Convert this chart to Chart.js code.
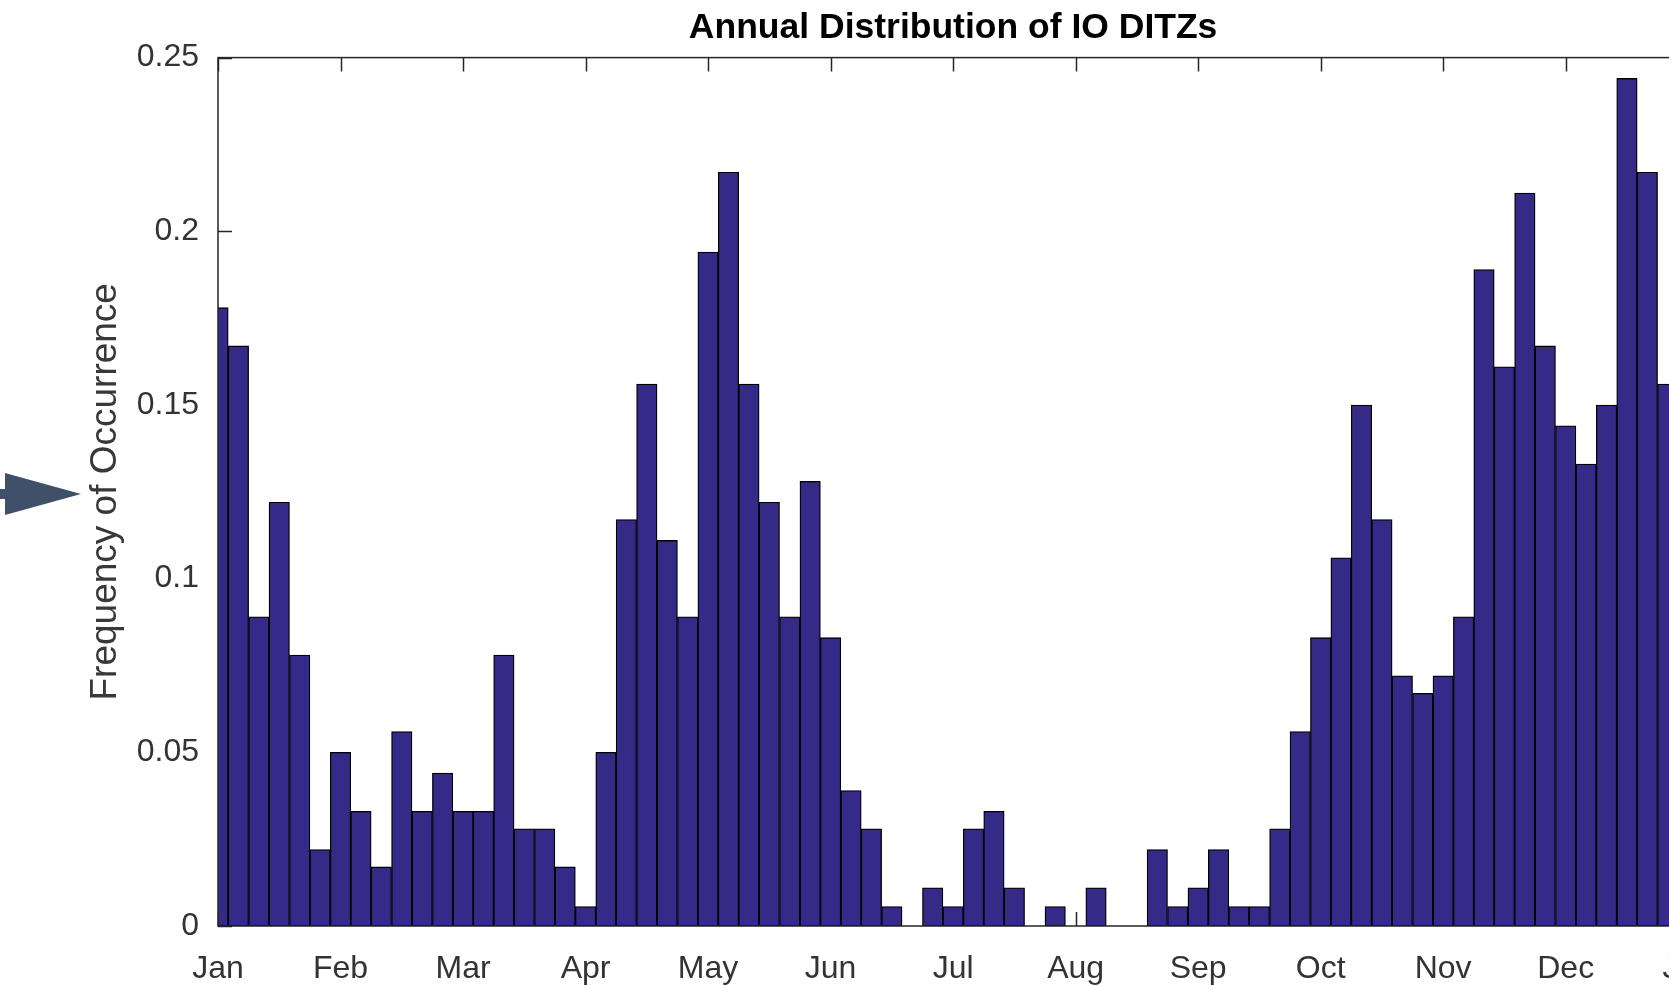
<!DOCTYPE html>
<html>
<head>
<meta charset="utf-8">
<title>Annual Distribution of IO DITZs</title>
<script src="https://cdn.jsdelivr.net/npm/chart.js@4.4.1/dist/chart.umd.min.js"></script>
<style>
  html, body { margin: 0; padding: 0; background: #fff; overflow: hidden; }
  #wrap { width: 1730px; height: 986px; }
  canvas { display: block; }
</style>
</head>
<body>
<div id="wrap"><canvas id="ditz-chart" width="1730" height="986"></canvas></div>
<script>
// Bin centres (day of year, 5-day bins; axis runs 0..360 with 30 days per month label)
const binCenters = [
  0, 5, 10, 15, 20, 25, 30, 35, 40, 45, 50, 55,
  60, 65, 70, 75, 80, 85, 90, 95, 100, 105, 110, 115,
  120, 125, 130, 135, 140, 145, 150, 155, 160, 165, 170, 175,
  180, 185, 190, 195, 200, 205, 210, 215, 220, 225, 230, 235,
  240, 245, 250, 255, 260, 265, 270, 275, 280, 285, 290, 295,
  300, 305, 310, 315, 320, 325, 330, 335, 340, 345, 350, 355
];

// Frequency of occurrence per bin
const frequency = [
  0.178, 0.167, 0.089, 0.122, 0.078, 0.022, 0.050, 0.033, 0.017, 0.056, 0.033, 0.044,
  0.033, 0.033, 0.078, 0.028, 0.028, 0.017, 0.0056, 0.050, 0.117, 0.156, 0.111, 0.089,
  0.194, 0.217, 0.156, 0.122, 0.089, 0.128, 0.083, 0.039, 0.028, 0.0056, 0, 0.011,
  0.0056, 0.028, 0.033, 0.011, 0, 0.0056, 0, 0.011, 0, 0, 0.022, 0.0056,
  0.011, 0.022, 0.0056, 0.0056, 0.028, 0.056, 0.083, 0.106, 0.150, 0.117, 0.072, 0.067,
  0.072, 0.089, 0.189, 0.161, 0.211, 0.167, 0.144, 0.133, 0.150, 0.244, 0.217, 0.156
];

// Tick labels
const monthLabels = ['Jan', 'Feb', 'Mar', 'Apr', 'May', 'Jun', 'Jul', 'Aug', 'Sep', 'Oct', 'Nov', 'Dec', 'Jan'];
const yTickLabels = ['0', '0.05', '0.1', '0.15', '0.2', '0.25'];

const FONT = "'Liberation Sans', Arial, Helvetica, sans-serif";
const AXIS_COLOR = '#262626';
const TICK_LEN = 14;

// MATLAB-style box with inward ticks
const matlabAxes = {
  id: 'matlabAxes',
  beforeDatasetsDraw(chart) {
    const { ctx, chartArea: a, scales: { x, y } } = chart;
    ctx.save();
    ctx.strokeStyle = AXIS_COLOR;
    ctx.lineWidth = 1.5;
    ctx.beginPath();
    x.ticks.forEach(t => {
      const px = Math.round(x.getPixelForValue(t.value)) + 0.5;
      ctx.moveTo(px, a.bottom); ctx.lineTo(px, a.bottom - TICK_LEN);
      ctx.moveTo(px, a.top); ctx.lineTo(px, a.top + TICK_LEN);
    });
    y.ticks.forEach(t => {
      const py = Math.round(y.getPixelForValue(t.value)) + 0.5;
      ctx.moveTo(a.left, py); ctx.lineTo(a.left + TICK_LEN, py);
      ctx.moveTo(a.right, py); ctx.lineTo(a.right - TICK_LEN, py);
    });
    ctx.stroke();
    ctx.restore();
  },
  afterDatasetsDraw(chart) {
    const { ctx, chartArea: a } = chart;
    ctx.save();
    ctx.strokeStyle = AXIS_COLOR;
    ctx.lineWidth = 1.5;
    ctx.strokeRect(a.left, a.top, a.right - a.left, a.bottom - a.top);
    ctx.restore();
  }
};

// Pointer arrow at the left edge of the figure
const pointerArrow = {
  id: 'pointerArrow',
  afterDraw(chart) {
    const ctx = chart.ctx;
    ctx.save();
    ctx.fillStyle = '#405068';
    ctx.fillRect(0, 489, 7, 10);
    ctx.beginPath();
    ctx.moveTo(5, 473);
    ctx.lineTo(81, 494);
    ctx.lineTo(5, 515);
    ctx.closePath();
    ctx.fill();
    ctx.restore();
  }
};

new Chart(document.getElementById('ditz-chart'), {
  type: 'bar',
  data: {
    datasets: [{
      label: 'Frequency of Occurrence',
      data: binCenters.map((d, i) => ({ x: d, y: frequency[i] })),
      backgroundColor: '#352a87',
      borderColor: '#000000',
      borderWidth: 1.3,
      borderSkipped: false,
      barPercentage: 1,
      categoryPercentage: 1,
      clip: 0
    }]
  },
  options: {
    responsive: false,
    devicePixelRatio: 1,
    animation: false,
    layout: { padding: { left: 0, right: 40, top: 0, bottom: 0 } },
    plugins: {
      legend: { display: false },
      tooltip: { enabled: false },
      title: {
        display: true,
        text: 'Annual Distribution of IO DITZs',
        fullSize: false,
        color: '#000000',
        font: { family: FONT, size: 35.5, weight: 'bold' },
        padding: { top: 7, bottom: 8 }
      }
    },
    scales: {
      x: {
        type: 'linear',
        min: 0,
        max: 360,
        offset: false,
        grid: { display: false },
        border: { display: false },
        ticks: {
          stepSize: 30,
          autoSkip: false,
          maxRotation: 0,
          padding: 16,
          color: '#333333',
          font: { family: FONT, size: 32 },
          callback: (v, i) => monthLabels[i]
        },
        afterFit: s => { s.height = 60; }
      },
      y: {
        min: 0,
        max: 0.25,
        grid: { display: false },
        border: { display: false },
        ticks: {
          stepSize: 0.05,
          padding: 11,
          color: '#333333',
          font: { family: FONT, size: 32 },
          callback: (v, i) => yTickLabels[i]
        },
        title: {
          display: true,
          text: 'Frequency of Occurrence',
          color: '#383838',
          font: { family: FONT, size: 37 },
          padding: { top: 84, bottom: 0 }
        },
        afterFit: s => { s.width = 218; }
      }
    }
  },
  plugins: [matlabAxes, pointerArrow]
});
</script>
</body>
</html>
